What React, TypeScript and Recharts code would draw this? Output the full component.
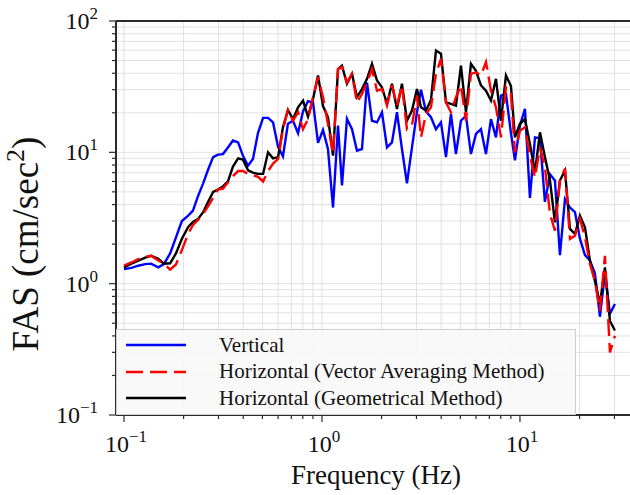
import React from "react";
import {
  CartesianGrid,
  Label,
  Line,
  LineChart,
  ReferenceLine,
  XAxis,
  YAxis,
} from "recharts";

/* ── Data ──────────────────────────────────────────────────── */
const freqs = [
  0.1, 0.109, 0.118, 0.128, 0.137, 0.149, 0.159, 0.171, 0.183, 0.196,
  0.211, 0.223, 0.236, 0.251, 0.266, 0.282, 0.298, 0.316, 0.335, 0.355,
  0.377, 0.399, 0.423, 0.448, 0.475, 0.504, 0.534, 0.566, 0.6, 0.635,
  0.673, 0.714, 0.757, 0.802, 0.85, 0.901, 0.955, 1.012, 1.072, 1.137,
  1.205, 1.262, 1.337, 1.418, 1.502, 1.592, 1.688, 1.789, 1.896, 2.009,
  2.13, 2.257, 2.392, 2.535, 2.687, 2.848, 3.018, 3.162, 3.352, 3.552,
  3.765, 3.99, 4.229, 4.482, 4.75, 5.035, 5.337, 5.656, 5.995, 6.354,
  6.734, 7.138, 7.565, 8.018, 8.499, 9.006, 9.434, 10.0, 10.6, 11.23,
  11.91, 12.62, 13.37, 14.18, 15.02, 15.92, 16.88, 17.89, 18.96, 20.09,
  21.3, 22.57, 23.92, 25.35, 26.87, 28.48, 30.18,
];

const vertical = [
  1.29, 1.32, 1.37, 1.41, 1.42, 1.33, 1.41, 1.7, 2.25, 3.0,
  3.3, 3.6, 4.6, 5.8, 7.4, 9.2, 9.6, 9.7, 10.9, 12.3,
  11.9, 9.4, 7.9, 8.9, 14.0, 18.3, 18.3, 16.9, 11.0, 9.3,
  16.5, 17.4, 14.0, 20.5, 24.5, 24.0, 11.8, 14.8, 10.6, 3.8,
  16.0, 5.6, 18.0, 15.0, 10.3, 10.6, 34.0, 17.4, 16.9, 20.2,
  10.9, 11.9, 20.2, 10.6, 5.8, 10.9, 20.2, 30.0, 20.5, 18.5,
  15.0, 16.9, 9.2, 19.6, 9.7, 17.4, 19.0, 9.7, 13.8, 15.0,
  9.7, 17.9, 13.0, 27.0, 27.8, 14.0, 8.7, 16.0, 21.4, 4.5,
  13.0, 12.8, 4.2, 6.8, 6.1, 1.65, 4.4, 3.8, 3.5, 2.2,
  1.65, 1.5, 1.2, 0.56, 1.2, 0.59, 0.7,
];

const vectorAvg = [
  1.37, 1.45, 1.54, 1.6, 1.63, 1.5, 1.42, 1.28, 1.4, 1.8,
  2.4, 2.8, 3.05, 3.4, 3.9, 4.5, 5.2, 5.3, 5.9, 6.6,
  7.2, 7.2, 6.85, 6.7, 6.5, 6.0, 7.2, 8.2, 8.9, 15.0,
  21.0, 17.4, 20.2, 15.0, 17.9, 26.3, 37.3, 26.3, 16.4, 9.7,
  43.0, 44.5, 34.1, 39.6, 24.0, 27.8, 34.1, 43.0, 29.5, 30.3,
  22.7, 32.4, 22.7, 32.4, 15.0, 16.0, 27.0, 13.0, 19.6, 22.0,
  39.6, 51.5, 24.0, 20.2, 26.3, 32.4, 17.4, 39.6, 40.7, 38.5,
  48.7, 29.5, 22.0, 13.0, 31.3, 28.0, 10.0, 14.6, 15.5, 9.45,
  6.45, 10.9, 7.7, 3.4, 2.53, 6.1, 7.5, 2.19, 2.32, 3.11,
  2.26, 1.41, 1.05, 0.62, 1.63, 0.3, 0.4,
];

const geometric = [
  1.33, 1.42, 1.5, 1.58, 1.63, 1.55, 1.42, 1.43, 1.7, 2.2,
  2.7, 2.95, 3.1, 3.5, 4.2, 5.0, 5.2, 5.5, 6.0, 7.8,
  9.0, 8.8, 7.3, 7.0, 6.85, 6.85, 10.0, 9.0, 9.2, 15.5,
  21.0, 17.9, 22.0, 24.8, 18.7, 25.5, 38.5, 22.5, 18.5, 9.45,
  43.0, 45.7, 33.3, 39.6, 26.3, 30.3, 36.3, 47.3, 35.2, 31.3,
  23.4, 33.3, 21.4, 33.3, 17.4, 20.8, 30.3, 22.0, 20.8, 25.0,
  59.6, 56.4, 24.0, 23.4, 22.7, 45.7, 20.2, 47.3, 41.8, 32.4,
  29.5, 24.8, 36.3, 17.4, 38.5, 32.0, 13.0, 16.5, 17.9, 11.6,
  7.05, 14.2, 9.2, 6.1, 2.93, 6.1, 7.27, 2.61, 2.39, 3.3,
  2.69, 1.5, 1.05, 0.7, 1.33, 0.52, 0.44,
];

const xTicks = [
  0.1, 0.2, 0.3, 0.4, 0.5, 0.6, 0.7, 0.8, 0.9,
  1, 2, 3, 4, 5, 6, 7, 8, 9,
  10, 20, 30, 40,
];
const yTicks = [
  0.1, 0.2, 0.3, 0.4, 0.5, 0.6, 0.7, 0.8, 0.9,
  1, 2, 3, 4, 5, 6, 7, 8, 9,
  10, 20, 30, 40, 50, 60, 70, 80, 90, 100,
];

const seriesNames = [
  "Vertical",
  "Horizontal (Vector Averaging Method)",
  "Horizontal (Geometrical Method)",
];

const data = freqs.map((f, i) => ({
  f,
  v: vertical[i],
  va: vectorAvg[i],
  gm: geometric[i],
}));

const FONT = "'Liberation Serif', 'Times New Roman', serif";
const SPINE = "#2b2b2b";
const RED_DASH = "17 7";

function decade(v: number) {
  const e = Math.round(Math.log10(v));
  return { e, major: Math.abs(Math.log10(v) - e) < 1e-6 };
}

function expText(e: number) {
  return e < 0 ? `\u2212${-e}` : `${e}`;
}

/* ── Tick renderers ─────────────────────────────────────────── */
function XTick({ x, y, payload }: any) {
  const { e, major } = decade(payload.value);
  return (
    <g>
      <line x1={x} x2={x} y1={y} y2={y + (major ? 7 : 4)} stroke={SPINE} strokeWidth={1.2} />
      {major ? (
        <text x={x + 2} y={y + 37} textAnchor="middle" fontFamily={FONT} fontSize={24} fill="#111">
          10
          <tspan dy={-10} fontSize={17}>
            {expText(e)}
          </tspan>
        </text>
      ) : null}
    </g>
  );
}

function YTick({ x, y, payload }: any) {
  const { e, major } = decade(payload.value);
  return (
    <g>
      <line x1={x - (major ? 7 : 4)} x2={x} y1={y} y2={y} stroke={SPINE} strokeWidth={1.2} />
      {major ? (
        <text x={x - 18} y={y + 8} textAnchor="end" fontFamily={FONT} fontSize={24} fill="#111">
          10
          <tspan dy={-10} fontSize={17}>
            {expText(e)}
          </tspan>
        </text>
      ) : null}
    </g>
  );
}

/* ── Legend overlay ─────────────────────────────────────────── */
function LegendBox() {
  const styles = [
    { stroke: "#0000ff", dash: undefined },
    { stroke: "#ff0000", dash: RED_DASH },
    { stroke: "#000000", dash: undefined },
  ];
  return (
    <div
      style={{
        position: "absolute",
        left: 116,
        top: 329,
        width: 460,
        height: 86,
        background: "rgba(248,248,248,0.92)",
        border: "1px solid #cfcfcf",
        boxSizing: "border-box",
        fontFamily: FONT,
        fontSize: 21,
        color: "#111",
      }}
    >
      {seriesNames.map((name, i) => (
        <div
          key={name}
          style={{
            position: "absolute",
            left: 0,
            top: 2 + i * 26.5,
            height: 26,
            display: "flex",
            alignItems: "center",
          }}
        >
          <svg width={80} height={26} style={{ flex: "none" }}>
            <line
              x1={9}
              x2={69}
              y1={13}
              y2={13}
              stroke={styles[i].stroke}
              strokeWidth={2.4}
              strokeDasharray={styles[i].dash}
            />
          </svg>
          <span style={{ marginLeft: 22, whiteSpace: "nowrap" }}>{name}</span>
        </div>
      ))}
    </div>
  );
}

export default function App() {
  return (
    <div
      style={{
        position: "absolute",
        left: 0,
        top: 0,
        width: 630,
        height: 495,
        overflow: "hidden",
        background: "#fff",
      }}
    >
      <LineChart
        width={640}
        height={495}
        data={data}
        margin={{ top: 21, right: 0, bottom: 0, left: 0 }}
      >
        <CartesianGrid stroke="#e1e1e1" strokeWidth={1} />
        <XAxis
          dataKey="f"
          type="number"
          scale="log"
          domain={[0.0911, 40.4]}
          allowDataOverflow
          ticks={xTicks}
          interval={0}
          height={80}
          tickSize={0}
          tickMargin={0}
          tickLine={false}
          tick={<XTick />}
          axisLine={{ stroke: SPINE, strokeWidth: 2 }}
        >
          <Label
            content={() => (
              <text x={376} y={484} textAnchor="middle" fontFamily={FONT} fontSize={27} fill="#111">
                Frequency (Hz)
              </text>
            )}
          />
        </XAxis>
        <YAxis
          type="number"
          scale="log"
          domain={[0.1, 100]}
          allowDataOverflow
          ticks={yTicks}
          interval={0}
          width={116}
          tickSize={0}
          tickMargin={0}
          tickLine={false}
          tick={<YTick />}
          axisLine={{ stroke: SPINE, strokeWidth: 2 }}
        >
          <Label
            content={() => (
              <text
                x={38}
                y={244}
                transform="rotate(-90 38 244)"
                textAnchor="middle"
                fontFamily={FONT}
                fontSize={37}
                fill="#111"
              >
                FAS (cm/sec
                <tspan dy={-14} fontSize={26}>
                  2
                </tspan>
                <tspan dy={14}>)</tspan>
              </text>
            )}
          />
        </YAxis>
        <ReferenceLine y={100} stroke={SPINE} strokeWidth={2} />
        <Line
          dataKey="v"
          name={seriesNames[0]}
          stroke="#0000ff"
          strokeWidth={2.4}
          dot={false}
          isAnimationActive={false}
        />
        <Line
          dataKey="gm"
          name={seriesNames[2]}
          stroke="#000000"
          strokeWidth={2.4}
          dot={false}
          isAnimationActive={false}
        />
        <Line
          dataKey="va"
          name={seriesNames[1]}
          stroke="#ff0000"
          strokeWidth={2.4}
          strokeDasharray={RED_DASH}
          dot={false}
          isAnimationActive={false}
        />
      </LineChart>
      <LegendBox />
    </div>
  );
}
